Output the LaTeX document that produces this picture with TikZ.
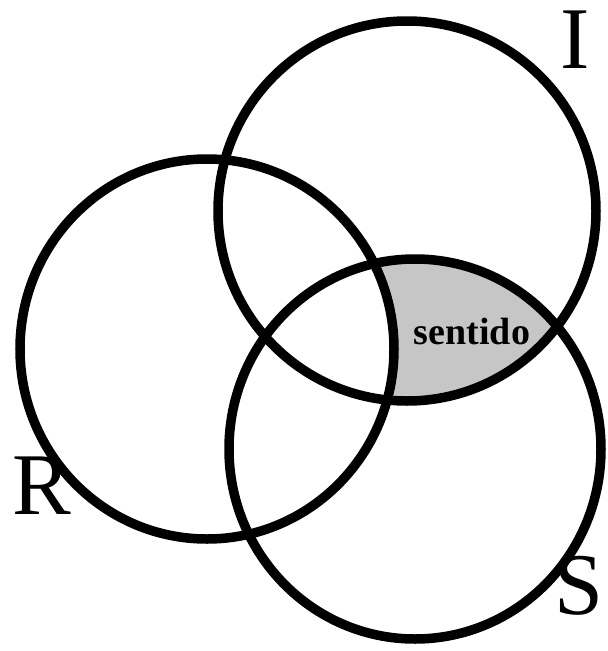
\documentclass[tikz,border=0pt]{standalone}
\usepackage{fontspec}
\newfontfamily\txtfont{Liberation Serif}
\begin{document}
\begin{tikzpicture}[x=1pt,y=-1pt,
  ring/.style={draw=black,line width=9.5pt},
  setlabel/.style={font=\txtfont\fontsize{88}{88}\selectfont,inner sep=0pt,anchor=base west}]
\useasboundingbox (0,0) rectangle (608,651);
\def\pathI{(407,211) ellipse [x radius=189,y radius=190]}
\def\pathR{(207,349) ellipse [x radius=187,y radius=190]}
\def\pathS{(415,449) ellipse [x radius=186,y radius=190]}
\begin{scope}
  \clip \pathI;
  \clip \pathS;
  \fill[gray!45,even odd rule] (0,0) rectangle (608,651) \pathR;
\end{scope}
\draw[ring] \pathI;
\draw[ring] \pathR;
\draw[ring] \pathS;
\node[font=\txtfont\bfseries\fontsize{38}{38}\selectfont,inner sep=0pt] (sent) at (472,331) {sentido};
\node[setlabel] (lI) at (560,68) {I};
\node[setlabel] (lR) at (12,514) {R};
\node[setlabel] (lS) at (554,614) {S};
\end{tikzpicture}
\end{document}
